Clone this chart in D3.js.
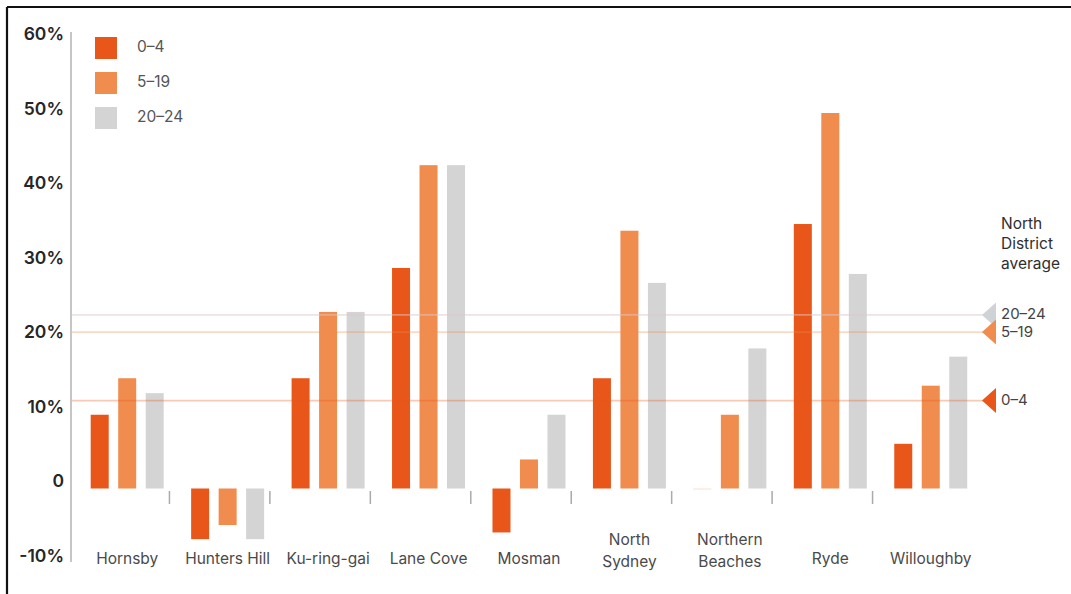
<!DOCTYPE html>
<html>
<head>
<meta charset="utf-8">
<script src="https://cdn.jsdelivr.net/npm/d3@7"></script>
<style>
  html, body { margin: 0; padding: 0; background: #fff; }
  svg { display: block; font-family: Inter, "Liberation Sans", Arial, sans-serif; }
</style>
</head>
<body>
<svg id="chart" width="1071" height="594"></svg>
<script>
// ---- data ----
const categories = ["Hornsby", "Hunters Hill", "Ku-ring-gai", "Lane Cove", "Mosman",
  "North Sydney", "Northern Beaches", "Ryde", "Willoughby"];
const categoryLabels = [["Hornsby"], ["Hunters Hill"], ["Ku-ring-gai"], ["Lane Cove"], ["Mosman"],
  ["North", "Sydney"], ["Northern", "Beaches"], ["Ryde"], ["Willoughby"]];
const seriesNames = ["0–4", "5–19", "20–24"];
const age0to4 = [9.9, -6.8, 14.8, 29.6, -5.9, 14.8, 0, 35.5, 6.0];
const age5to19 = [14.8, -4.9, 23.7, 43.4, 3.9, 34.6, 9.9, 50.4, 13.8];
const age20to24 = [12.8, -6.8, 23.7, 43.4, 9.9, 27.6, 18.8, 28.8, 17.7];
const districtAverage = [11.8, 21.0, 23.3]; // 0–4, 5–19, 20–24
const yTickValues = [-10, 0, 10, 20, 30, 40, 50, 60];
const yTickLabels = ["-10%", "0", "10%", "20%", "30%", "40%", "50%", "60%"];
const annotationLines = ["North", "District", "average"];

const colors = ["#e8561a", "#f08c4e", "#d4d4d4"];
const seriesValues = [age0to4, age5to19, age20to24];

const svg = d3.select("#chart");

// frame (top + left edges of the cropped picture)
svg.append("line").attr("x1", 7).attr("x2", 1071).attr("y1", 7).attr("y2", 7)
  .attr("stroke", "#111").attr("stroke-width", 2.2);
svg.append("line").attr("x1", 7).attr("x2", 7).attr("y1", 7).attr("y2", 594)
  .attr("stroke", "#111").attr("stroke-width", 2.2);

// scales
const y = d3.scaleLinear().domain([-10, 60]).range([563, 41.5]);
const x = d3.scaleBand().domain(categories).range([77, 981]).padding(0);
const xs = d3.scaleBand().domain(seriesNames).range([13.7, 86.7])
  .paddingInner(0.345).paddingOuter(0);

// y axis line
svg.append("line").attr("x1", 71).attr("x2", 71).attr("y1", 32).attr("y2", 562)
  .attr("stroke", "#b3b3b3").attr("stroke-width", 1.5);

// y tick labels
svg.append("g").selectAll("text").data(yTickValues).join("text")
  .attr("x", 64).attr("y", d => y(d) - 6)
  .attr("text-anchor", "end").attr("dominant-baseline", "middle")
  .attr("font-size", 17.5).attr("font-weight", 600).attr("fill", "#262626")
  .text((d, i) => yTickLabels[i]);

// category separators
svg.append("g").selectAll("line").data(categories.slice(1)).join("line")
  .attr("x1", d => x(d) - 8).attr("x2", d => x(d) - 8)
  .attr("y1", 491).attr("y2", 504)
  .attr("stroke", "#aaa").attr("stroke-width", 1.5);

// bars
const rows = [];
categories.forEach((c, i) => {
  seriesNames.forEach((s, j) => rows.push({ c, s, j, v: seriesValues[j][i] }));
});
svg.append("g").selectAll("rect").data(rows).join("rect")
  .attr("x", d => x(d.c) + xs(d.s))
  .attr("width", xs.bandwidth())
  .attr("y", d => Math.min(y(d.v), y(0)))
  .attr("height", d => Math.max(1, Math.abs(y(d.v) - y(0))))
  .attr("fill", d => colors[d.j])
  .attr("fill-opacity", d => d.v === 0 ? 0.2 : 1);

// average lines
const avgG = svg.append("g");
avgG.selectAll("line").data(districtAverage).join("line")
  .attr("x1", 72).attr("x2", 983)
  .attr("y1", d => y(d)).attr("y2", d => y(d))
  .attr("stroke", (d, i) => i === 2 ? "#d9c9c9" : colors[i])
  .attr("stroke-opacity", (d, i) => i === 2 ? 0.5 : 0.32)
  .attr("stroke-width", 1.8);

// triangle markers (draw 20–24 first so 5–19 sits on top)
const order = [2, 1, 0];
svg.append("g").selectAll("path").data(order).join("path")
  .attr("d", i => {
    const yy = y(districtAverage[i]);
    return `M982,${yy} L996,${yy - 12.5} L996,${yy + 12.5} Z`;
  })
  .attr("fill", i => i === 2 ? "#cfd3d6" : colors[i]);

svg.append("g").selectAll("text").data(order).join("text")
  .attr("x", 1001).attr("y", i => y(districtAverage[i]) + (i === 1 ? 1 : 0))
  .attr("dominant-baseline", "middle")
  .attr("font-size", 15).attr("fill", "#444")
  .text(i => seriesNames[i]);

// annotation
svg.append("g").selectAll("text").data(annotationLines).join("text")
  .attr("x", 1001).attr("y", (d, i) => 225 + i * 20)
  .attr("dominant-baseline", "middle")
  .attr("font-size", 15.5).attr("fill", "#2e2e2e")
  .text(d => d);

// category labels
const lab = svg.append("g").selectAll("text").data(categories).join("text")
  .attr("text-anchor", "middle")
  .attr("font-size", 15.5).attr("fill", "#4a4a4a");
lab.each(function (c, i) {
  const lines = categoryLabels[i];
  const cx = x(c) + x.bandwidth() / 2;
  const startY = lines.length === 1 ? 560 : 541;
  d3.select(this).selectAll("tspan").data(lines).join("tspan")
    .attr("x", cx).attr("y", (d, k) => startY + k * 22)
    .attr("dominant-baseline", "middle")
    .text(d => d);
});

// legend
const leg = svg.append("g").selectAll("g").data(seriesNames).join("g")
  .attr("transform", (d, i) => `translate(95,${37 + i * 35})`);
leg.append("rect").attr("width", 22).attr("height", 22)
  .attr("fill", (d, i) => colors[i]);
leg.append("text").attr("x", 42).attr("y", 11)
  .attr("dominant-baseline", "middle")
  .attr("font-size", 15.5).attr("fill", "#555")
  .text(d => d);
</script>
</body>
</html>
